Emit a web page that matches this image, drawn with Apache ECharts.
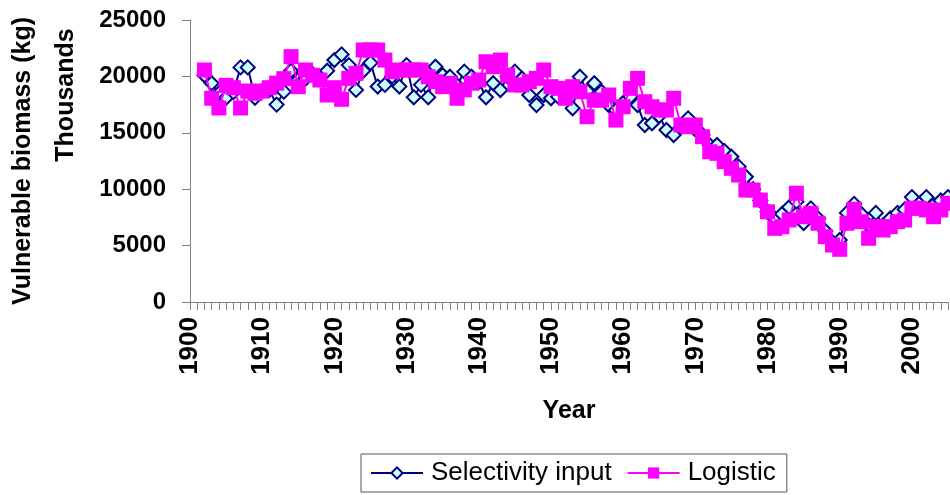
<!DOCTYPE html>
<html>
<head>
<meta charset="utf-8">
<script src="https://cdn.jsdelivr.net/npm/echarts@6/dist/echarts.min.js"></script>
<style>
  html, body { margin: 0; padding: 0; background: #fff; }
  #chart { width: 950px; height: 495px; }
</style>
</head>
<body>
<div id="chart"></div>
<script>
var years = [
  1902, 1903, 1904, 1905, 1906, 1907, 1908, 1909, 1910, 1911,
  1912, 1913, 1914, 1915, 1916, 1917, 1918, 1919, 1920, 1921,
  1922, 1923, 1924, 1925, 1926, 1927, 1928, 1929, 1930, 1931,
  1932, 1933, 1934, 1935, 1936, 1937, 1938, 1939, 1940, 1941,
  1942, 1943, 1944, 1945, 1946, 1947, 1948, 1949, 1950, 1951,
  1952, 1953, 1954, 1955, 1956, 1957, 1958, 1959, 1960, 1961,
  1962, 1963, 1964, 1965, 1966, 1967, 1968, 1969, 1970, 1971,
  1972, 1973, 1974, 1975, 1976, 1977, 1978, 1979, 1980, 1981,
  1982, 1983, 1984, 1985, 1986, 1987, 1988, 1989, 1990, 1991,
  1992, 1993, 1994, 1995, 1996, 1997, 1998, 1999, 2000, 2001,
  2002, 2003, 2004, 2005
];

var selectivityInput = [
  20100, 19400, 18500, 18100, 18600, 20800, 20800, 18100, 18700, 18800,
  17500, 18650, 20500, 19700, 19800, 20200, 19900, 20500, 21450, 21950,
  21000, 18800, 20500, 21200, 19100, 19250, 20000, 19100, 21000, 18150,
  19250, 18150, 20860, 20100, 19970, 19200, 20420, 19970, 19500, 18150,
  19390, 18790, 20000, 20420, 19800, 18350, 17460, 18350, 18060, 18200,
  18500, 17170, 19970, 18700, 19390, 18640, 17460, 17000, 17640, 18200,
  17460, 15690, 15840, 16500, 15250, 14800, 15500, 16280, 15300, 14800,
  13900, 13920, 13400, 12880, 12000, 11100, 10000, 9000, 8000, 7400,
  7800, 8400, 8900, 7000, 8300, 7400, 6300, 5300, 5500, 7900,
  8700, 7800, 6800, 7900, 6800, 7400, 7900, 8200, 9300, 8700,
  9300, 8600, 9000, 9300
];

var logistic = [
  20570, 18060, 17200, 19200, 19000, 17200, 18700, 18500, 18700, 19000,
  19400, 19800, 21750, 19090, 20570, 20100, 19680, 18350, 19000, 17970,
  19830, 20270, 22340, 22340, 22340, 21450, 20420, 20570, 20570, 20570,
  20570, 19970, 19530, 19090, 19390, 18060, 18800, 19390, 19680, 21300,
  20860, 21450, 20120, 19240, 19240, 19530, 19830, 20570, 19090, 18940,
  18060, 19090, 18640, 16430, 17900, 17900, 18350, 16130, 17310, 18940,
  19830, 17760, 17310, 17020, 17020, 18060, 15690, 15540, 15690, 14650,
  13320, 13180, 12440, 11850, 11260, 9930, 9930, 9040, 8000, 6530,
  6680, 7270, 9640, 7560, 7860, 6980, 5790, 5050, 4670, 6980,
  8220, 7120, 5650, 6680, 6380, 6680, 7120, 7270, 8310, 8310,
  8160, 7560, 8160, 8750
];

function pairs(vals) {
  return years.map(function (y, i) { return [y, vals[i]]; });
}

var font = 'Liberation Sans, Arial, sans-serif';
var axisGrey = '#808080';

var myChart = echarts.init(document.getElementById('chart'));

var option = {
  animation: false,
  backgroundColor: '#fff',
  grid: { left: 190, top: 20, right: 2, bottom: 193 },
  legend: {
    left: 361, top: 454,
    padding: [6, 11, 6, 9],
    borderColor: '#555',
    borderWidth: 1,
    itemWidth: 52, itemHeight: 14,
    itemGap: 15,
    textStyle: { fontFamily: font, fontSize: 26, color: '#000', padding: [0, 0, 0, 3] },
    data: ['Selectivity input', 'Logistic']
  },
  graphic: [{
    type: 'text',
    x: 66, y: 95,
    rotation: Math.PI / 2,
    style: {
      text: 'Thousands',
      font: 'bold 25px ' + font,
      fill: '#000',
      align: 'center',
      verticalAlign: 'middle'
    }
  }],
  xAxis: {
    type: 'value',
    min: 1900, max: 2005, interval: 10,
    name: 'Year',
    nameLocation: 'middle',
    nameGap: 97,
    nameTextStyle: { fontFamily: font, fontSize: 25, fontWeight: 'bold', color: '#000' },
    axisLine: { show: true, onZero: false, lineStyle: { color: axisGrey, width: 1 } },
    axisTick: { show: true, length: 8, lineStyle: { color: axisGrey } },
    minorTick: { show: true, splitNumber: 10, length: 8, lineStyle: { color: axisGrey } },
    splitLine: { show: false },
    axisLabel: {
      rotate: 90, margin: 15,
      fontFamily: font, fontSize: 26, fontWeight: 'bold', color: '#000',
      showMaxLabel: false,
      formatter: function (v) { return String(v); }
    }
  },
  yAxis: {
    type: 'value',
    min: 0, max: 25000, interval: 5000,
    name: 'Vulnerable biomass (kg)',
    nameLocation: 'middle',
    nameGap: 154,
    nameTextStyle: { fontFamily: font, fontSize: 25, fontWeight: 'bold', color: '#000' },
    axisLine: { show: true, lineStyle: { color: axisGrey, width: 1 } },
    axisTick: { show: true, length: 8, lineStyle: { color: axisGrey } },
    splitLine: { show: false },
    axisLabel: {
      margin: 24, fontFamily: font, fontSize: 24, fontWeight: 'bold', color: '#000',
      formatter: function (v) { return String(v); }
    }
  },
  series: [
    {
      name: 'Selectivity input',
      type: 'line',
      data: pairs(selectivityInput),
      symbol: 'diamond',
      symbolSize: 14,
      showAllSymbol: true,
      lineStyle: { color: '#000080', width: 2 },
      itemStyle: { color: '#ccffff', borderColor: '#000080', borderWidth: 2 },
      z: 2
    },
    {
      name: 'Logistic',
      type: 'line',
      data: pairs(logistic),
      symbol: 'rect',
      symbolSize: 15,
      showAllSymbol: true,
      lineStyle: { color: '#ff00ff', width: 2 },
      itemStyle: { color: '#ff00ff', borderColor: '#ff00ff', borderWidth: 0 },
      z: 3
    }
  ]
};

myChart.setOption(option);
</script>
</body>
</html>
